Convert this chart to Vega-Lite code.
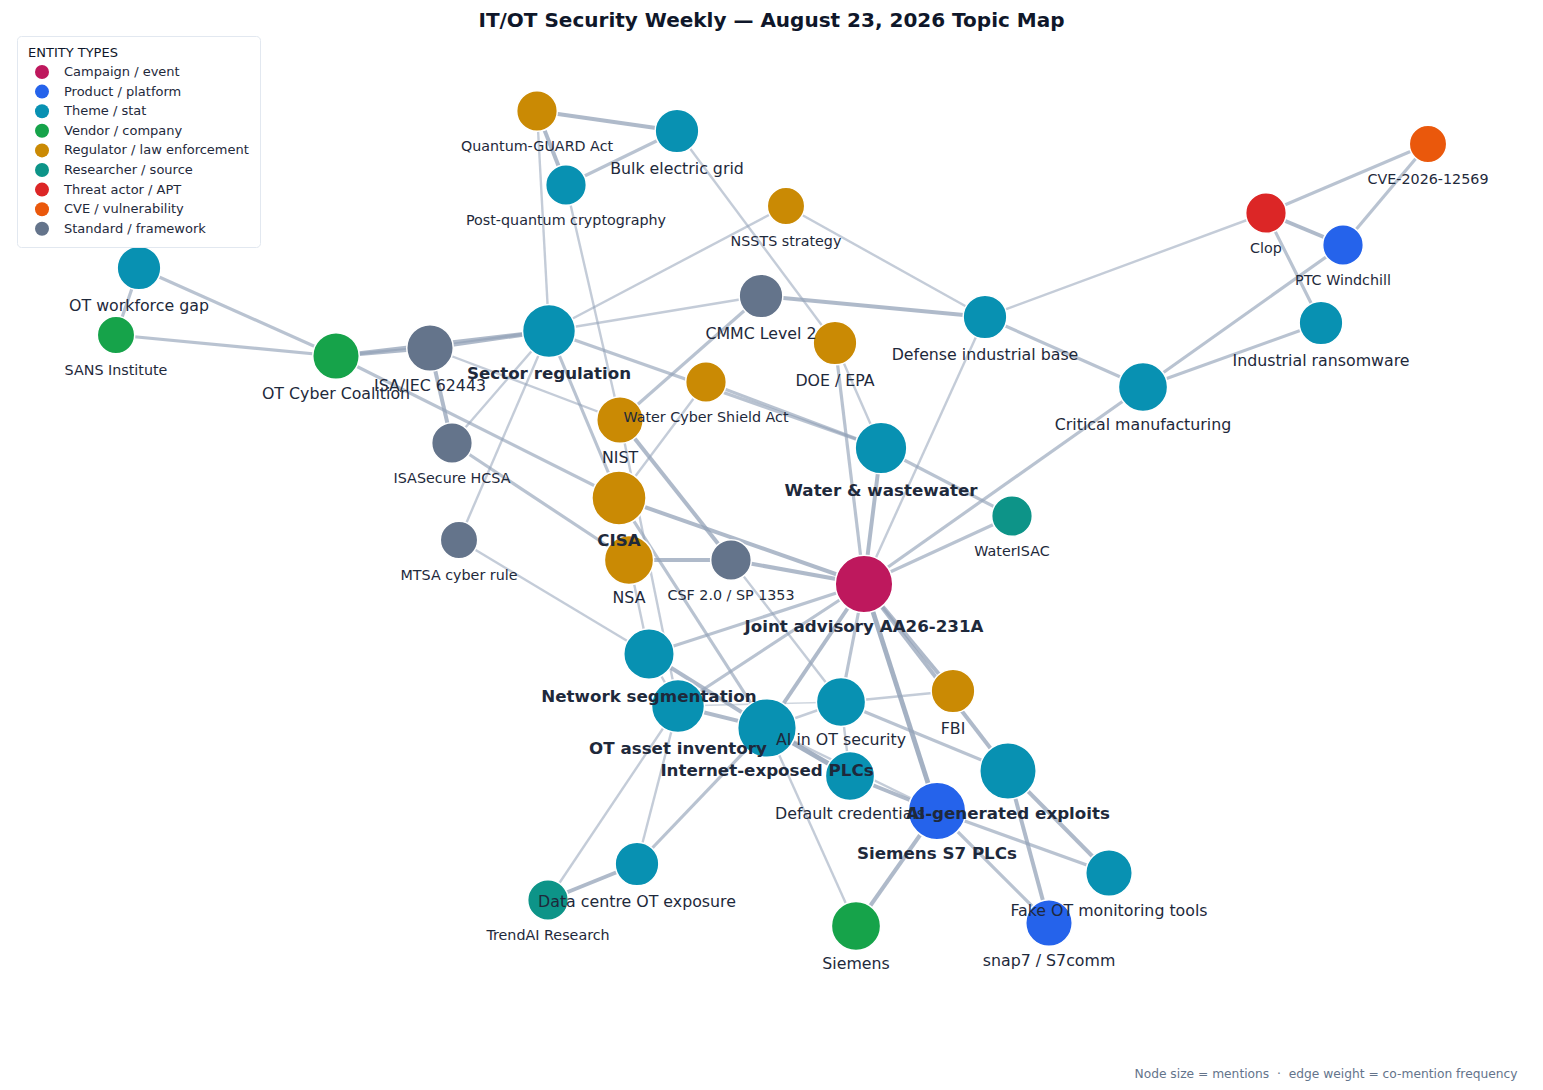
{
  "$schema": "https://vega.github.io/schema/vega-lite/v6.json",
  "width": 1543,
  "height": 1090,
  "autosize": {"type": "none"},
  "padding": 0,
  "background": "white",
  "title": {
    "text": "IT/OT Security Weekly — August 23, 2026 Topic Map",
    "font": "DejaVu Sans",
    "fontSize": 20,
    "fontWeight": "bold",
    "color": "#0f172a",
    "anchor": "middle",
    "offset": -31
  },
  "datasets": {
    "nodes": [
      {"id": "Joint advisory AA26-231A", "type": "Campaign / event", "x": 864, "y": 584, "mentions": 26},
      {"id": "Internet-exposed PLCs", "type": "Theme / stat", "x": 767, "y": 728, "mentions": 27},
      {"id": "Siemens S7 PLCs", "type": "Product / platform", "x": 937, "y": 811, "mentions": 26},
      {"id": "AI-generated exploits", "type": "Theme / stat", "x": 1008, "y": 771, "mentions": 25},
      {"id": "CISA", "type": "Regulator / law enforcement", "x": 619, "y": 498, "mentions": 23},
      {"id": "OT asset inventory", "type": "Theme / stat", "x": 678, "y": 706, "mentions": 22},
      {"id": "Sector regulation", "type": "Theme / stat", "x": 549, "y": 331, "mentions": 22},
      {"id": "Water & wastewater", "type": "Theme / stat", "x": 881, "y": 448, "mentions": 21},
      {"id": "Network segmentation", "type": "Theme / stat", "x": 649, "y": 654, "mentions": 20},
      {"id": "AI in OT security", "type": "Theme / stat", "x": 841, "y": 702, "mentions": 19},
      {"id": "Critical manufacturing", "type": "Theme / stat", "x": 1143, "y": 387, "mentions": 19},
      {"id": "Default credentials", "type": "Theme / stat", "x": 850, "y": 776, "mentions": 19},
      {"id": "Siemens", "type": "Vendor / company", "x": 856, "y": 926, "mentions": 19},
      {"id": "NSA", "type": "Regulator / law enforcement", "x": 629, "y": 560, "mentions": 19},
      {"id": "ISA/IEC 62443", "type": "Standard / framework", "x": 430, "y": 348, "mentions": 17},
      {"id": "OT Cyber Coalition", "type": "Vendor / company", "x": 336, "y": 356, "mentions": 17},
      {"id": "NIST", "type": "Regulator / law enforcement", "x": 620, "y": 420, "mentions": 17},
      {"id": "Fake OT monitoring tools", "type": "Theme / stat", "x": 1109, "y": 873, "mentions": 17},
      {"id": "snap7 / S7comm", "type": "Product / platform", "x": 1049, "y": 923, "mentions": 17},
      {"id": "OT workforce gap", "type": "Theme / stat", "x": 139, "y": 268, "mentions": 15},
      {"id": "Bulk electric grid", "type": "Theme / stat", "x": 677, "y": 131, "mentions": 15},
      {"id": "CMMC Level 2", "type": "Standard / framework", "x": 761, "y": 296, "mentions": 15},
      {"id": "DOE / EPA", "type": "Regulator / law enforcement", "x": 835, "y": 343, "mentions": 15},
      {"id": "Defense industrial base", "type": "Theme / stat", "x": 985, "y": 317, "mentions": 15},
      {"id": "Industrial ransomware", "type": "Theme / stat", "x": 1321, "y": 323, "mentions": 15},
      {"id": "FBI", "type": "Regulator / law enforcement", "x": 953, "y": 691, "mentions": 15},
      {"id": "Data centre OT exposure", "type": "Theme / stat", "x": 637, "y": 864, "mentions": 15},
      {"id": "Quantum-GUARD Act", "type": "Regulator / law enforcement", "x": 537, "y": 111, "mentions": 13},
      {"id": "Post-quantum cryptography", "type": "Theme / stat", "x": 566, "y": 185, "mentions": 13},
      {"id": "Clop", "type": "Threat actor / APT", "x": 1266, "y": 213, "mentions": 13},
      {"id": "PTC Windchill", "type": "Product / platform", "x": 1343, "y": 245, "mentions": 13},
      {"id": "Water Cyber Shield Act", "type": "Regulator / law enforcement", "x": 706, "y": 382, "mentions": 13},
      {"id": "CSF 2.0 / SP 1353", "type": "Standard / framework", "x": 731, "y": 560, "mentions": 13},
      {"id": "WaterISAC", "type": "Researcher / source", "x": 1012, "y": 516, "mentions": 13},
      {"id": "TrendAI Research", "type": "Researcher / source", "x": 548, "y": 900, "mentions": 13},
      {"id": "ISASecure HCSA", "type": "Standard / framework", "x": 452, "y": 443, "mentions": 13},
      {"id": "SANS Institute", "type": "Vendor / company", "x": 116, "y": 335, "mentions": 11},
      {"id": "NSSTS strategy", "type": "Regulator / law enforcement", "x": 786, "y": 206, "mentions": 11},
      {"id": "CVE-2026-12569", "type": "CVE / vulnerability", "x": 1428, "y": 144, "mentions": 11},
      {"id": "MTSA cyber rule", "type": "Standard / framework", "x": 459, "y": 540, "mentions": 11}
    ],
    "edges": [
      {"source": "OT workforce gap", "target": "SANS Institute", "weight": 3},
      {"source": "OT workforce gap", "target": "OT Cyber Coalition", "weight": 3},
      {"source": "SANS Institute", "target": "OT Cyber Coalition", "weight": 3},
      {"source": "OT Cyber Coalition", "target": "ISA/IEC 62443", "weight": 4},
      {"source": "OT Cyber Coalition", "target": "Sector regulation", "weight": 4},
      {"source": "ISA/IEC 62443", "target": "Sector regulation", "weight": 4},
      {"source": "OT Cyber Coalition", "target": "CISA", "weight": 3},
      {"source": "ISA/IEC 62443", "target": "ISASecure HCSA", "weight": 4},
      {"source": "ISA/IEC 62443", "target": "NIST", "weight": 2},
      {"source": "ISASecure HCSA", "target": "Sector regulation", "weight": 2},
      {"source": "ISASecure HCSA", "target": "NSA", "weight": 3},
      {"source": "MTSA cyber rule", "target": "Sector regulation", "weight": 2},
      {"source": "MTSA cyber rule", "target": "Network segmentation", "weight": 2},
      {"source": "Sector regulation", "target": "Quantum-GUARD Act", "weight": 2},
      {"source": "Sector regulation", "target": "NSSTS strategy", "weight": 2},
      {"source": "Sector regulation", "target": "CMMC Level 2", "weight": 2},
      {"source": "Sector regulation", "target": "Water & wastewater", "weight": 3},
      {"source": "Water Cyber Shield Act", "target": "Water & wastewater", "weight": 3},
      {"source": "Sector regulation", "target": "CISA", "weight": 3},
      {"source": "Quantum-GUARD Act", "target": "Post-quantum cryptography", "weight": 4},
      {"source": "Quantum-GUARD Act", "target": "Bulk electric grid", "weight": 4},
      {"source": "Post-quantum cryptography", "target": "Bulk electric grid", "weight": 3},
      {"source": "Post-quantum cryptography", "target": "NIST", "weight": 2},
      {"source": "Bulk electric grid", "target": "DOE / EPA", "weight": 2},
      {"source": "NSSTS strategy", "target": "Defense industrial base", "weight": 2},
      {"source": "CMMC Level 2", "target": "Defense industrial base", "weight": 4},
      {"source": "CMMC Level 2", "target": "NIST", "weight": 3},
      {"source": "DOE / EPA", "target": "Water & wastewater", "weight": 2},
      {"source": "DOE / EPA", "target": "Joint advisory AA26-231A", "weight": 3},
      {"source": "Water & wastewater", "target": "Joint advisory AA26-231A", "weight": 4},
      {"source": "Water & wastewater", "target": "WaterISAC", "weight": 3},
      {"source": "Water Cyber Shield Act", "target": "CISA", "weight": 2},
      {"source": "NIST", "target": "CSF 2.0 / SP 1353", "weight": 4},
      {"source": "NIST", "target": "OT asset inventory", "weight": 2},
      {"source": "CISA", "target": "Joint advisory AA26-231A", "weight": 4},
      {"source": "CISA", "target": "Internet-exposed PLCs", "weight": 3},
      {"source": "NSA", "target": "CSF 2.0 / SP 1353", "weight": 4},
      {"source": "CSF 2.0 / SP 1353", "target": "Joint advisory AA26-231A", "weight": 4},
      {"source": "CSF 2.0 / SP 1353", "target": "AI in OT security", "weight": 2},
      {"source": "NSA", "target": "Network segmentation", "weight": 2},
      {"source": "Network segmentation", "target": "Joint advisory AA26-231A", "weight": 3},
      {"source": "Network segmentation", "target": "Internet-exposed PLCs", "weight": 4},
      {"source": "Network segmentation", "target": "OT asset inventory", "weight": 2},
      {"source": "OT asset inventory", "target": "Joint advisory AA26-231A", "weight": 3},
      {"source": "OT asset inventory", "target": "Internet-exposed PLCs", "weight": 4},
      {"source": "OT asset inventory", "target": "AI in OT security", "weight": 1},
      {"source": "OT asset inventory", "target": "Data centre OT exposure", "weight": 2},
      {"source": "OT asset inventory", "target": "TrendAI Research", "weight": 2},
      {"source": "Internet-exposed PLCs", "target": "Joint advisory AA26-231A", "weight": 4},
      {"source": "Internet-exposed PLCs", "target": "AI in OT security", "weight": 2},
      {"source": "Internet-exposed PLCs", "target": "Default credentials", "weight": 5},
      {"source": "Internet-exposed PLCs", "target": "Siemens S7 PLCs", "weight": 2},
      {"source": "Internet-exposed PLCs", "target": "Data centre OT exposure", "weight": 3},
      {"source": "Internet-exposed PLCs", "target": "Siemens", "weight": 2},
      {"source": "AI in OT security", "target": "Joint advisory AA26-231A", "weight": 3},
      {"source": "AI in OT security", "target": "FBI", "weight": 2},
      {"source": "AI in OT security", "target": "AI-generated exploits", "weight": 3},
      {"source": "AI in OT security", "target": "Default credentials", "weight": 2},
      {"source": "Default credentials", "target": "Siemens S7 PLCs", "weight": 4},
      {"source": "Joint advisory AA26-231A", "target": "Siemens S7 PLCs", "weight": 5},
      {"source": "Joint advisory AA26-231A", "target": "FBI", "weight": 4},
      {"source": "Joint advisory AA26-231A", "target": "AI-generated exploits", "weight": 4},
      {"source": "Joint advisory AA26-231A", "target": "Critical manufacturing", "weight": 3},
      {"source": "Joint advisory AA26-231A", "target": "Defense industrial base", "weight": 2},
      {"source": "Joint advisory AA26-231A", "target": "WaterISAC", "weight": 3},
      {"source": "Siemens S7 PLCs", "target": "Siemens", "weight": 4},
      {"source": "Siemens S7 PLCs", "target": "snap7 / S7comm", "weight": 3},
      {"source": "Siemens S7 PLCs", "target": "Fake OT monitoring tools", "weight": 3},
      {"source": "AI-generated exploits", "target": "snap7 / S7comm", "weight": 4},
      {"source": "AI-generated exploits", "target": "Fake OT monitoring tools", "weight": 4},
      {"source": "Data centre OT exposure", "target": "TrendAI Research", "weight": 4},
      {"source": "Clop", "target": "CVE-2026-12569", "weight": 3},
      {"source": "Clop", "target": "PTC Windchill", "weight": 4},
      {"source": "PTC Windchill", "target": "CVE-2026-12569", "weight": 3},
      {"source": "Clop", "target": "Industrial ransomware", "weight": 3},
      {"source": "Clop", "target": "Defense industrial base", "weight": 2},
      {"source": "PTC Windchill", "target": "Critical manufacturing", "weight": 3},
      {"source": "Industrial ransomware", "target": "Critical manufacturing", "weight": 3},
      {"source": "Defense industrial base", "target": "Critical manufacturing", "weight": 3}
    ]
  },
  "layer": [
    {
      "data": {"name": "edges"},
      "transform": [
        {"lookup": "source", "from": {"data": {"name": "nodes"}, "key": "id", "fields": ["x", "y"]}, "as": ["sx", "sy"]},
        {"lookup": "target", "from": {"data": {"name": "nodes"}, "key": "id", "fields": ["x", "y"]}, "as": ["tx", "ty"]}
      ],
      "mark": {"type": "rule", "color": "#94a3b8"},
      "encoding": {
        "x": {
          "field": "sx", "type": "quantitative",
          "scale": {"domain": [0, 1543], "nice": false, "zero": false},
          "axis": {
            "title": "Node size = mentions \u00a0·\u00a0 edge weight = co-mention frequency",
            "labels": false, "ticks": false, "domain": false, "grid": false,
            "titleFont": "DejaVu Sans", "titleFontSize": 12.25, "titleFontWeight": "normal",
            "titleColor": "#64748b", "titleX": 1517, "titleY": -17,
            "titleAlign": "right", "titleBaseline": "middle"
          }
        },
        "y": {"field": "sy", "type": "quantitative", "scale": {"domain": [0, 1090], "reverse": true, "nice": false, "zero": false}, "axis": null},
        "x2": {"field": "tx"},
        "y2": {"field": "ty"},
        "strokeWidth": {"field": "weight", "type": "quantitative", "scale": {"domain": [1, 5], "range": [1.6, 4.8]}, "legend": null},
        "opacity": {"field": "weight", "type": "quantitative", "scale": {"domain": [1, 5], "range": [0.45, 0.85]}, "legend": null}
      }
    },
    {
      "data": {"name": "nodes"},
      "mark": {"type": "point", "filled": true, "shape": "circle", "stroke": "white", "strokeWidth": 1.5, "opacity": 1},
      "encoding": {
        "x": {
          "field": "x", "type": "quantitative",
          "scale": {"domain": [0, 1543], "nice": false, "zero": false},
          "axis": {
            "title": "Node size = mentions \u00a0·\u00a0 edge weight = co-mention frequency",
            "labels": false, "ticks": false, "domain": false, "grid": false,
            "titleFont": "DejaVu Sans", "titleFontSize": 12.25, "titleFontWeight": "normal",
            "titleColor": "#64748b", "titleX": 1517, "titleY": -17,
            "titleAlign": "right", "titleBaseline": "middle"
          }
        },
        "y": {"field": "y", "type": "quantitative", "scale": {"domain": [0, 1090], "reverse": true, "nice": false, "zero": false}, "axis": null},
        "size": {"field": "mentions", "type": "quantitative", "scale": {"domain": [0, 30], "range": [0, 3820]}, "legend": null},
        "color": {
          "field": "type", "type": "nominal",
          "scale": {
            "domain": ["Campaign / event", "Product / platform", "Theme / stat", "Vendor / company", "Regulator / law enforcement", "Researcher / source", "Threat actor / APT", "CVE / vulnerability", "Standard / framework"],
            "range": ["#be185d", "#2563eb", "#0891b2", "#16a34a", "#ca8a04", "#0d9488", "#dc2626", "#ea580c", "#64748b"]
          },
          "legend": {
            "title": "ENTITY TYPES",
            "orient": "none", "legendX": 17, "legendY": 36,
            "padding": 11, "fillColor": "white", "strokeColor": "#e2e8f0", "cornerRadius": 4,
            "titleFont": "DejaVu Sans", "titleFontSize": 13, "titleFontWeight": "normal", "titleColor": "#0f172a", "titlePadding": 5,
            "labelFont": "DejaVu Sans", "labelFontSize": 13, "labelColor": "#1e293b", "labelOffset": 15, "labelLimit": 400,
            "symbolType": "circle", "symbolSize": 196, "symbolOffset": 7, "symbolStrokeWidth": 0, "symbolOpacity": 1,
            "rowPadding": 5.6
          }
        }
      }
    },
    {
      "data": {"name": "nodes"},
      "transform": [{"filter": "datum.mentions >= 20"}],
      "mark": {"type": "text", "font": "DejaVu Sans", "fontSize": 16.7, "fontWeight": "bold", "color": "#1e293b", "baseline": "middle", "dy": 43},
      "encoding": {
        "x": {"field": "x", "type": "quantitative", "scale": {"domain": [0, 1543], "nice": false, "zero": false},
          "axis": {
            "title": "Node size = mentions \u00a0·\u00a0 edge weight = co-mention frequency",
            "labels": false, "ticks": false, "domain": false, "grid": false,
            "titleFont": "DejaVu Sans", "titleFontSize": 12.25, "titleFontWeight": "normal",
            "titleColor": "#64748b", "titleX": 1517, "titleY": -17,
            "titleAlign": "right", "titleBaseline": "middle"
          }},
        "y": {"field": "y", "type": "quantitative", "scale": {"domain": [0, 1090], "reverse": true, "nice": false, "zero": false}, "axis": null},
        "text": {"field": "id"}
      }
    },
    {
      "data": {"name": "nodes"},
      "transform": [{"filter": "datum.mentions >= 14 && datum.mentions < 20"}],
      "mark": {"type": "text", "font": "DejaVu Sans", "fontSize": 15.8, "color": "#1e293b", "baseline": "middle", "dy": 38},
      "encoding": {
        "x": {"field": "x", "type": "quantitative", "scale": {"domain": [0, 1543], "nice": false, "zero": false},
          "axis": {
            "title": "Node size = mentions \u00a0·\u00a0 edge weight = co-mention frequency",
            "labels": false, "ticks": false, "domain": false, "grid": false,
            "titleFont": "DejaVu Sans", "titleFontSize": 12.25, "titleFontWeight": "normal",
            "titleColor": "#64748b", "titleX": 1517, "titleY": -17,
            "titleAlign": "right", "titleBaseline": "middle"
          }},
        "y": {"field": "y", "type": "quantitative", "scale": {"domain": [0, 1090], "reverse": true, "nice": false, "zero": false}, "axis": null},
        "text": {"field": "id"}
      }
    },
    {
      "data": {"name": "nodes"},
      "transform": [{"filter": "datum.mentions < 14"}],
      "mark": {"type": "text", "font": "DejaVu Sans", "fontSize": 14.3, "color": "#1e293b", "baseline": "middle", "dy": 36},
      "encoding": {
        "x": {"field": "x", "type": "quantitative", "scale": {"domain": [0, 1543], "nice": false, "zero": false},
          "axis": {
            "title": "Node size = mentions \u00a0·\u00a0 edge weight = co-mention frequency",
            "labels": false, "ticks": false, "domain": false, "grid": false,
            "titleFont": "DejaVu Sans", "titleFontSize": 12.25, "titleFontWeight": "normal",
            "titleColor": "#64748b", "titleX": 1517, "titleY": -17,
            "titleAlign": "right", "titleBaseline": "middle"
          }},
        "y": {"field": "y", "type": "quantitative", "scale": {"domain": [0, 1090], "reverse": true, "nice": false, "zero": false}, "axis": null},
        "text": {"field": "id"}
      }
    }
  ],
  "config": {
    "font": "DejaVu Sans",
    "view": {"stroke": null}
  }
}
